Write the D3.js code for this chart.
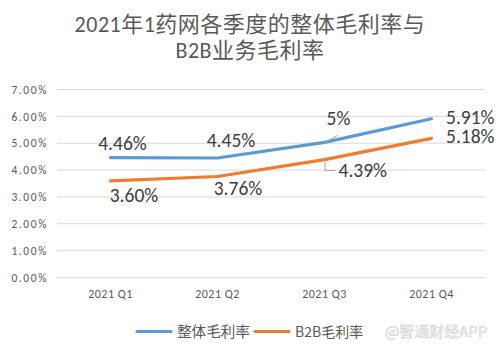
<!DOCTYPE html>
<html><head><meta charset="utf-8">
<script src="https://cdn.jsdelivr.net/npm/d3@7"></script>
<style>body{margin:0;background:#fff;}svg{display:block;}</style>
</head><body>
<script>
const categories = ["2021 Q1","2021 Q2","2021 Q3","2021 Q4"];
const overall = [4.46, 4.45, 5.03, 5.91];
const overallLabels = ["4.46%","4.45%","5%","5.91%"];
const b2b = [3.60, 3.76, 4.39, 5.18];
const b2bLabels = ["3.60%","3.76%","4.39%","5.18%"];
const yTicks = [0,1,2,3,4,5,6,7];
const seriesNames = ["整体毛利率","B2B毛利率"];
const titleLines = ["2021年1药网各季度的整体毛利率与","B2B业务毛利率"];
const watermark = "@智通财经APP";

const W=501,H=356;
const font = "Carlito, 'Noto Sans CJK SC', sans-serif";
const cjk = "'Noto Sans CJK SC', sans-serif";
const svg = d3.select("body").append("svg").attr("width",W).attr("height",H);
const x = d3.scaleBand().domain(categories).range([57,485]);
const y = d3.scaleLinear().domain([0,7]).range([277.5,89.5]);
const gray="#595959";

svg.selectAll(".title").data(titleLines).enter().append("text")
  .attr("x",250).attr("y",(d,i)=>32+i*26).attr("text-anchor","middle")
  .attr("font-family",font).attr("font-size",22).attr("letter-spacing",0.5)
  .attr("fill",gray).text(d=>d);

// grid
svg.append("g").selectAll("line").data(yTicks).enter().append("line")
  .attr("x1",57).attr("x2",485).attr("y1",d=>y(d)).attr("y2",d=>y(d))
  .attr("stroke","#D9D9D9").attr("stroke-width",1);
const yAxis = svg.append("g").attr("transform","translate(57,0)")
  .call(d3.axisLeft(y).tickValues(yTicks).tickSize(0).tickPadding(9).tickFormat(d=>d.toFixed(2)+"%"));
yAxis.select(".domain").remove();
yAxis.selectAll("text").attr("font-family",font).attr("font-size",11.5).attr("letter-spacing",1.6).attr("fill",gray);
const xAxis = svg.append("g").attr("transform","translate(0,277.5)")
  .call(d3.axisBottom(x).tickSize(0).tickPadding(12));
xAxis.select(".domain").remove();
xAxis.selectAll("text").attr("font-family",font).attr("font-size",12).attr("letter-spacing",0.5).attr("fill",gray);

const cx = d=>x(d)+x.bandwidth()/2;
const line = d3.line().x((d,i)=>cx(categories[i])).y(d=>y(d));
svg.append("path").datum(overall).attr("d",line).attr("fill","none").attr("stroke","#5B9BD5").attr("stroke-width",3.2).attr("stroke-linejoin","round").attr("stroke-linecap","round");
svg.append("path").datum(b2b).attr("d",line).attr("fill","none").attr("stroke","#ED7D31").attr("stroke-width",3.2).attr("stroke-linejoin","round").attr("stroke-linecap","round");

// labels
function lab(tx,ty,t,anchor){
  svg.append("text").attr("x",tx).attr("y",ty).attr("text-anchor",anchor||"middle")
    .attr("font-family",font).attr("font-size",19.5).attr("fill","#404040").text(t);
}
const px = i=>cx(categories[i]);
lab(px(0)+12, y(overall[0])-8, overallLabels[0]);
lab(px(1)+13.5, y(overall[1])-11, overallLabels[1]);
lab(px(2)+14, y(overall[2])-17, overallLabels[2]);
lab(px(3)+14.5, y(overall[3])+5.5, overallLabels[3], "start");
svg.append("path").attr("d",`M${px(2)+1},${y(overall[2])-0.5}L${px(2)+13},${y(overall[2])-7}`)
  .attr("stroke","#A6A6A6").attr("fill","none").attr("stroke-width",1);
lab(px(0)+23.5, y(b2b[0])+21.5, b2bLabels[0]);
lab(px(1)+20.5, y(b2b[1])+18.5, b2bLabels[1]);
lab(px(2)+14, y(b2b[2])+17.7, b2bLabels[2], "start");
lab(px(3)+14.5, y(b2b[3])+5, b2bLabels[3], "start");
svg.append("path").attr("d",`M${px(2)+0.5},${y(b2b[2])+2}L${px(2)+0.5},${y(b2b[2])+11}L${px(2)+11},${y(b2b[2])+11}`)
  .attr("stroke","#A6A6A6").attr("fill","none").attr("stroke-width",1);

// legend
const leg = [{c:"#5B9BD5",x:137,tx:177,fs:14.6},{c:"#ED7D31",x:255,tx:295,fs:14}];
leg.forEach((l,i)=>{
  svg.append("line").attr("x1",l.x).attr("x2",l.x+34).attr("y1",331.5).attr("y2",331.5)
    .attr("stroke",l.c).attr("stroke-width",3.2).attr("stroke-linecap","round");
  svg.append("text").attr("x",l.tx).attr("y",337).attr("font-family",cjk)
    .attr("font-size",l.fs).attr("fill",gray).text(seriesNames[i]);
});
svg.append("text").attr("x",385).attr("y",337).attr("font-family",cjk).attr("font-size",15)
  .attr("fill","#E8E8E8").attr("stroke","#D0D0D0").attr("stroke-width",0.4).text(watermark);
</script>
</body></html>
